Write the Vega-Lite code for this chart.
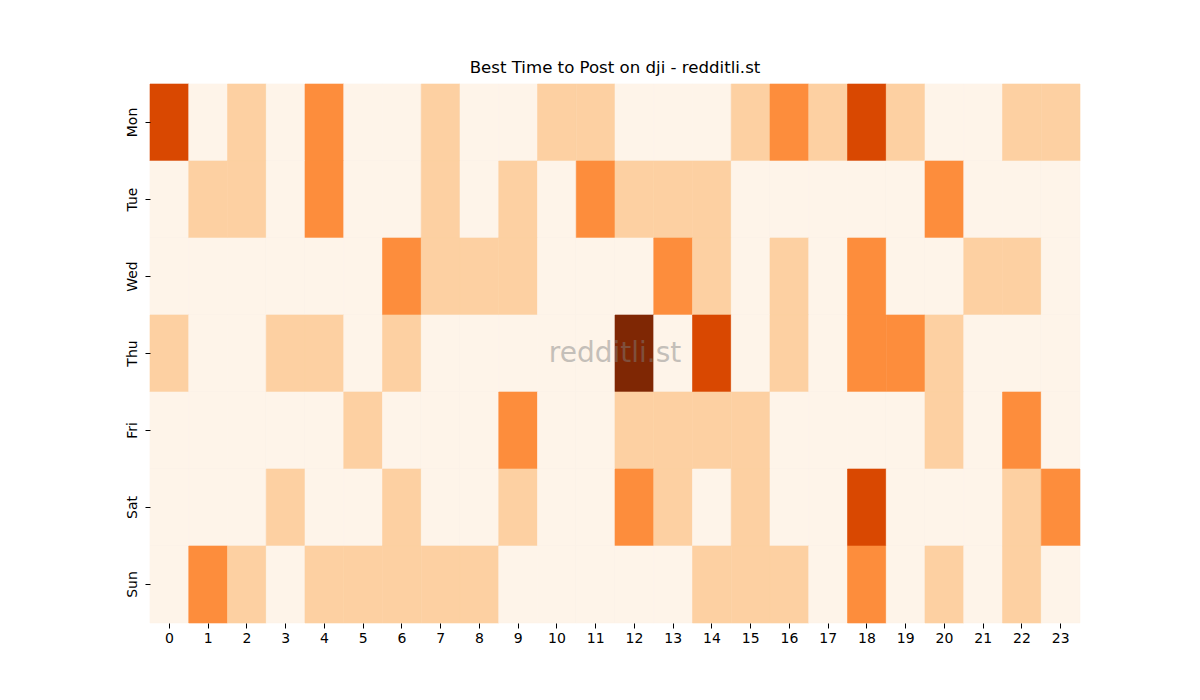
{
  "$schema": "https://vega.github.io/schema/vega-lite/v6.json",
  "autosize": {"type": "none"},
  "padding": {"left": 150, "top": 84, "right": 120, "bottom": 77},
  "width": 930,
  "height": 539,
  "background": "white",
  "title": {
    "text": "Best Time to Post on dji - redditli.st",
    "fontSize": 16.6,
    "fontWeight": "normal",
    "font": "DejaVu Sans",
    "color": "black",
    "offset": 7
  },
  "datasets": {
    "posts": [
      {"d": "Mon", "h": 0, "v": 3}, {"d": "Mon", "h": 1, "v": 0}, {"d": "Mon", "h": 2, "v": 1}, {"d": "Mon", "h": 3, "v": 0},
      {"d": "Mon", "h": 4, "v": 2}, {"d": "Mon", "h": 5, "v": 0}, {"d": "Mon", "h": 6, "v": 0}, {"d": "Mon", "h": 7, "v": 1},
      {"d": "Mon", "h": 8, "v": 0}, {"d": "Mon", "h": 9, "v": 0}, {"d": "Mon", "h": 10, "v": 1}, {"d": "Mon", "h": 11, "v": 1},
      {"d": "Mon", "h": 12, "v": 0}, {"d": "Mon", "h": 13, "v": 0}, {"d": "Mon", "h": 14, "v": 0}, {"d": "Mon", "h": 15, "v": 1},
      {"d": "Mon", "h": 16, "v": 2}, {"d": "Mon", "h": 17, "v": 1}, {"d": "Mon", "h": 18, "v": 3}, {"d": "Mon", "h": 19, "v": 1},
      {"d": "Mon", "h": 20, "v": 0}, {"d": "Mon", "h": 21, "v": 0}, {"d": "Mon", "h": 22, "v": 1}, {"d": "Mon", "h": 23, "v": 1},
      {"d": "Tue", "h": 0, "v": 0}, {"d": "Tue", "h": 1, "v": 1}, {"d": "Tue", "h": 2, "v": 1}, {"d": "Tue", "h": 3, "v": 0},
      {"d": "Tue", "h": 4, "v": 2}, {"d": "Tue", "h": 5, "v": 0}, {"d": "Tue", "h": 6, "v": 0}, {"d": "Tue", "h": 7, "v": 1},
      {"d": "Tue", "h": 8, "v": 0}, {"d": "Tue", "h": 9, "v": 1}, {"d": "Tue", "h": 10, "v": 0}, {"d": "Tue", "h": 11, "v": 2},
      {"d": "Tue", "h": 12, "v": 1}, {"d": "Tue", "h": 13, "v": 1}, {"d": "Tue", "h": 14, "v": 1}, {"d": "Tue", "h": 15, "v": 0},
      {"d": "Tue", "h": 16, "v": 0}, {"d": "Tue", "h": 17, "v": 0}, {"d": "Tue", "h": 18, "v": 0}, {"d": "Tue", "h": 19, "v": 0},
      {"d": "Tue", "h": 20, "v": 2}, {"d": "Tue", "h": 21, "v": 0}, {"d": "Tue", "h": 22, "v": 0}, {"d": "Tue", "h": 23, "v": 0},
      {"d": "Wed", "h": 0, "v": 0}, {"d": "Wed", "h": 1, "v": 0}, {"d": "Wed", "h": 2, "v": 0}, {"d": "Wed", "h": 3, "v": 0},
      {"d": "Wed", "h": 4, "v": 0}, {"d": "Wed", "h": 5, "v": 0}, {"d": "Wed", "h": 6, "v": 2}, {"d": "Wed", "h": 7, "v": 1},
      {"d": "Wed", "h": 8, "v": 1}, {"d": "Wed", "h": 9, "v": 1}, {"d": "Wed", "h": 10, "v": 0}, {"d": "Wed", "h": 11, "v": 0},
      {"d": "Wed", "h": 12, "v": 0}, {"d": "Wed", "h": 13, "v": 2}, {"d": "Wed", "h": 14, "v": 1}, {"d": "Wed", "h": 15, "v": 0},
      {"d": "Wed", "h": 16, "v": 1}, {"d": "Wed", "h": 17, "v": 0}, {"d": "Wed", "h": 18, "v": 2}, {"d": "Wed", "h": 19, "v": 0},
      {"d": "Wed", "h": 20, "v": 0}, {"d": "Wed", "h": 21, "v": 1}, {"d": "Wed", "h": 22, "v": 1}, {"d": "Wed", "h": 23, "v": 0},
      {"d": "Thu", "h": 0, "v": 1}, {"d": "Thu", "h": 1, "v": 0}, {"d": "Thu", "h": 2, "v": 0}, {"d": "Thu", "h": 3, "v": 1},
      {"d": "Thu", "h": 4, "v": 1}, {"d": "Thu", "h": 5, "v": 0}, {"d": "Thu", "h": 6, "v": 1}, {"d": "Thu", "h": 7, "v": 0},
      {"d": "Thu", "h": 8, "v": 0}, {"d": "Thu", "h": 9, "v": 0}, {"d": "Thu", "h": 10, "v": 0}, {"d": "Thu", "h": 11, "v": 0},
      {"d": "Thu", "h": 12, "v": 4}, {"d": "Thu", "h": 13, "v": 0}, {"d": "Thu", "h": 14, "v": 3}, {"d": "Thu", "h": 15, "v": 0},
      {"d": "Thu", "h": 16, "v": 1}, {"d": "Thu", "h": 17, "v": 0}, {"d": "Thu", "h": 18, "v": 2}, {"d": "Thu", "h": 19, "v": 2},
      {"d": "Thu", "h": 20, "v": 1}, {"d": "Thu", "h": 21, "v": 0}, {"d": "Thu", "h": 22, "v": 0}, {"d": "Thu", "h": 23, "v": 0},
      {"d": "Fri", "h": 0, "v": 0}, {"d": "Fri", "h": 1, "v": 0}, {"d": "Fri", "h": 2, "v": 0}, {"d": "Fri", "h": 3, "v": 0},
      {"d": "Fri", "h": 4, "v": 0}, {"d": "Fri", "h": 5, "v": 1}, {"d": "Fri", "h": 6, "v": 0}, {"d": "Fri", "h": 7, "v": 0},
      {"d": "Fri", "h": 8, "v": 0}, {"d": "Fri", "h": 9, "v": 2}, {"d": "Fri", "h": 10, "v": 0}, {"d": "Fri", "h": 11, "v": 0},
      {"d": "Fri", "h": 12, "v": 1}, {"d": "Fri", "h": 13, "v": 1}, {"d": "Fri", "h": 14, "v": 1}, {"d": "Fri", "h": 15, "v": 1},
      {"d": "Fri", "h": 16, "v": 0}, {"d": "Fri", "h": 17, "v": 0}, {"d": "Fri", "h": 18, "v": 0}, {"d": "Fri", "h": 19, "v": 0},
      {"d": "Fri", "h": 20, "v": 1}, {"d": "Fri", "h": 21, "v": 0}, {"d": "Fri", "h": 22, "v": 2}, {"d": "Fri", "h": 23, "v": 0},
      {"d": "Sat", "h": 0, "v": 0}, {"d": "Sat", "h": 1, "v": 0}, {"d": "Sat", "h": 2, "v": 0}, {"d": "Sat", "h": 3, "v": 1},
      {"d": "Sat", "h": 4, "v": 0}, {"d": "Sat", "h": 5, "v": 0}, {"d": "Sat", "h": 6, "v": 1}, {"d": "Sat", "h": 7, "v": 0},
      {"d": "Sat", "h": 8, "v": 0}, {"d": "Sat", "h": 9, "v": 1}, {"d": "Sat", "h": 10, "v": 0}, {"d": "Sat", "h": 11, "v": 0},
      {"d": "Sat", "h": 12, "v": 2}, {"d": "Sat", "h": 13, "v": 1}, {"d": "Sat", "h": 14, "v": 0}, {"d": "Sat", "h": 15, "v": 1},
      {"d": "Sat", "h": 16, "v": 0}, {"d": "Sat", "h": 17, "v": 0}, {"d": "Sat", "h": 18, "v": 3}, {"d": "Sat", "h": 19, "v": 0},
      {"d": "Sat", "h": 20, "v": 0}, {"d": "Sat", "h": 21, "v": 0}, {"d": "Sat", "h": 22, "v": 1}, {"d": "Sat", "h": 23, "v": 2},
      {"d": "Sun", "h": 0, "v": 0}, {"d": "Sun", "h": 1, "v": 2}, {"d": "Sun", "h": 2, "v": 1}, {"d": "Sun", "h": 3, "v": 0},
      {"d": "Sun", "h": 4, "v": 1}, {"d": "Sun", "h": 5, "v": 1}, {"d": "Sun", "h": 6, "v": 1}, {"d": "Sun", "h": 7, "v": 1},
      {"d": "Sun", "h": 8, "v": 1}, {"d": "Sun", "h": 9, "v": 0}, {"d": "Sun", "h": 10, "v": 0}, {"d": "Sun", "h": 11, "v": 0},
      {"d": "Sun", "h": 12, "v": 0}, {"d": "Sun", "h": 13, "v": 0}, {"d": "Sun", "h": 14, "v": 1}, {"d": "Sun", "h": 15, "v": 1},
      {"d": "Sun", "h": 16, "v": 1}, {"d": "Sun", "h": 17, "v": 0}, {"d": "Sun", "h": 18, "v": 2}, {"d": "Sun", "h": 19, "v": 0},
      {"d": "Sun", "h": 20, "v": 1}, {"d": "Sun", "h": 21, "v": 0}, {"d": "Sun", "h": 22, "v": 1}, {"d": "Sun", "h": 23, "v": 0}
    ],
    "mark": [
      {"d": "Thu", "h": 12, "t": "redditli.st"}
    ]
  },
  "encoding": {
    "x": {
      "field": "h",
      "type": "ordinal",
      "title": null,
      "scale": {"paddingInner": 0, "paddingOuter": 0},
      "axis": {
        "labelAngle": 0,
        "domain": false,
        "tickColor": "black",
        "tickSize": 5,
        "labelPadding": 3,
        "labelFontSize": 14,
        "labelFont": "DejaVu Sans",
        "labelColor": "black"
      }
    },
    "y": {
      "field": "d",
      "type": "nominal",
      "title": null,
      "sort": ["Mon", "Tue", "Wed", "Thu", "Fri", "Sat", "Sun"],
      "scale": {"paddingInner": 0, "paddingOuter": 0},
      "axis": {
        "labelAngle": -90,
        "labelAlign": "center",
        "labelBaseline": "bottom",
        "domain": false,
        "tickColor": "black",
        "tickSize": 5,
        "labelPadding": 6,
        "labelFontSize": 14,
        "labelFont": "DejaVu Sans",
        "labelColor": "black"
      }
    }
  },
  "layer": [
    {
      "data": {"name": "posts"},
      "mark": {"type": "rect", "strokeWidth": 0.6},
      "encoding": {
        "color": {
          "field": "v",
          "type": "ordinal",
          "legend": null,
          "scale": {
            "domain": [0, 1, 2, 3, 4],
            "range": ["#fef4e9", "#fdd0a2", "#fd8d3c", "#d94801", "#7f2704"]
          }
        },
        "stroke": {
          "field": "v",
          "type": "ordinal",
          "legend": null,
          "scale": {
            "domain": [0, 1, 2, 3, 4],
            "range": ["#fef4e9", "#fdd0a2", "#fd8d3c", "#d94801", "#7f2704"]
          }
        }
      }
    },
    {
      "data": {"name": "mark"},
      "mark": {
        "type": "text",
        "align": "center",
        "baseline": "middle",
        "fontSize": 28,
        "font": "DejaVu Sans",
        "color": "#808080",
        "opacity": 0.45
      },
      "encoding": {
        "x": {"field": "h", "type": "ordinal", "bandPosition": 0},
        "text": {"field": "t"}
      }
    }
  ],
  "config": {
    "view": {"stroke": null},
    "font": "DejaVu Sans"
  }
}
